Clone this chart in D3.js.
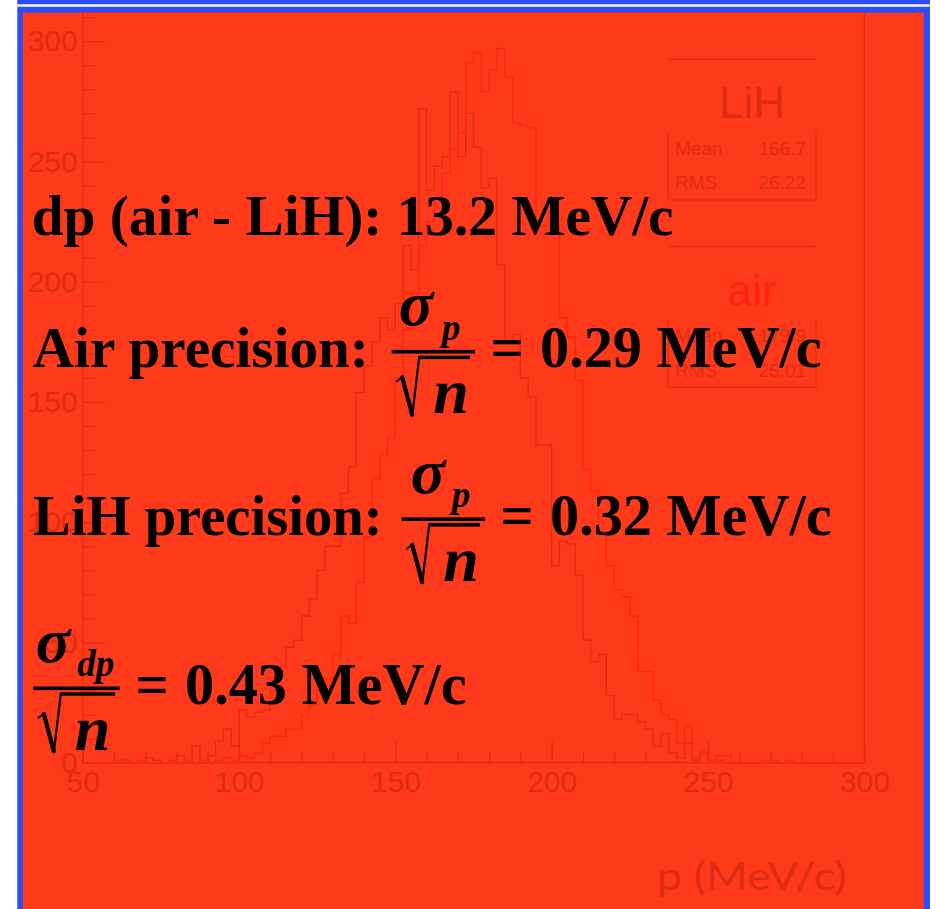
<!DOCTYPE html>
<html>
<head>
<meta charset="utf-8">
<script src="https://cdn.jsdelivr.net/npm/d3@7"></script>
<style>
  html, body { margin: 0; padding: 0; background: #ffffff; }
  svg { display: block; }
</style>
</head>
<body>
<svg id="chart" width="936" height="909"></svg>
<script>
// ---- histogram binning (p in MeV/c) ----
const binLow = 50;
const binWidth = 2.5;

// LiH absorber momentum spectrum, counts per 2.5 MeV/c bin
const lihCounts = [
  0, 0, 0, 0, 1, 1, 0, 1, 2, 1,
  0, 1, 3, 1, 7, 1, 3, 9, 14, 7,
  22, 19, 21, 22, 30, 40, 48, 51, 61, 68,
  80, 90, 90, 112, 123, 154, 165, 175, 185, 180,
  191, 215, 205, 272, 238, 248, 252, 279, 252, 270,
  256, 239, 243, 207, 175, 178, 160, 152, 132, 132,
  82, 92, 91, 78, 51, 42, 45, 28, 18, 20,
  20, 17, 14, 7, 12, 4, 2, 8, 1, 4,
  1, 1, 0, 0, 0, 0, 0, 0, 0, 0,
  0, 0, 0, 0, 0, 0, 0, 0, 0, 0
];

// air (no absorber) momentum spectrum, counts per 2.5 MeV/c bin
const airCounts = [
  0, 0, 0, 0, 0, 1, 0, 0, 0, 0,
  0, 0, 0, 1, 0, 1, 0, 1, 2, 1,
  3, 2, 4, 8, 11, 11, 14, 14, 20, 24,
  30, 35, 45, 61, 58, 75, 94, 118, 128, 135,
  160, 180, 195, 215, 225, 235, 245, 255, 262, 291,
  295, 279, 288, 297, 285, 266, 265, 264, 223, 223,
  224, 185, 177, 159, 122, 113, 96, 82, 72, 69,
  61, 38, 38, 26, 20, 18, 8, 15, 2, 5,
  1, 3, 3, 0, 0, 0, 0, 1, 1, 0,
  1, 0, 0, 0, 0, 0, 0, 0, 0, 0
];

const xMajorTicks = [50, 100, 150, 200, 250, 300];
const yMajorTicks = [0, 50, 100, 150, 200, 250, 300];
const xTitle = "p (MeV/c)";

// statistics boxes
const statNames = ["LiH", "air"];
const statMeans = ["166.7", "179.9"];
const statRms = ["26.22", "25.01"];

// result lines written over the plot
const resultLabels = ["Air precision:", "LiH precision:"];
const resultValues = ["0.29 MeV/c", "0.32 MeV/c", "0.43 MeV/c"];
const shiftText = "dp (air - LiH): 13.2 MeV/c";

// ---- colours ----
const BLUE = "#2c4cff";
const PANEL = "#ff3a1a";
const FAINT = "#e02c14";   // axes, labels, LiH line
const AIRLINE = "#ff2210"; // air line
const INK = "#000000";

const svg = d3.select("#chart");

// slide frame: blue border with a thin white rule near the top
svg.append("rect").attr("x", 17.3).attr("y", 0).attr("width", 930 - 17.3).attr("height", 909).attr("fill", BLUE);
svg.append("rect").attr("x", 17.3).attr("y", 4.3).attr("width", 930 - 17.3).attr("height", 2.4).attr("fill", "#ffffff");
svg.append("rect").attr("x", 22.7).attr("y", 12.7).attr("width", 924 - 22.7).attr("height", 909 - 12.7).attr("fill", PANEL);

// ---- plot ----
const yMax = d3.max(airCounts.concat(lihCounts)) * 1.05;
const x = d3.scaleLinear().domain([50, 300]).range([82.7, 864.3]);
const y = d3.scaleLinear().domain([0, yMax]).range([762.7, 12.7]);

const plot = svg.append("g");

// frame
plot.append("rect")
  .attr("x", x(50)).attr("y", y(yMax))
  .attr("width", x(300) - x(50)).attr("height", y(0) - y(yMax))
  .attr("fill", "none").attr("stroke", FAINT).attr("stroke-width", 1.2);

const fontSans = "'Liberation Sans', Arial, Helvetica, sans-serif";

// x axis: major + minor ticks pointing into the frame
plot.append("g").attr("transform", `translate(0,${y(0)})`)
  .call(d3.axisBottom(x).tickValues(xMajorTicks).tickSize(-22).tickPadding(8.5).tickFormat(d3.format("d")));
plot.append("g").attr("transform", `translate(0,${y(0)})`)
  .call(d3.axisBottom(x).tickValues(d3.range(50, 301, 10).filter(v => v % 50 !== 0)).tickSize(-11).tickFormat(""));

// y axis
plot.append("g").attr("transform", `translate(${x(50)},0)`)
  .call(d3.axisLeft(y).tickValues(yMajorTicks).tickSize(-23).tickPadding(5).tickFormat(d3.format("d")));
plot.append("g").attr("transform", `translate(${x(50)},0)`)
  .call(d3.axisLeft(y).tickValues(d3.range(0, yMax, 10).filter(v => v % 50 !== 0)).tickSize(-12).tickFormat(""));

plot.selectAll(".domain").remove();
plot.selectAll(".tick line").attr("stroke", FAINT).attr("stroke-width", 1.2);
plot.selectAll(".tick text")
  .attr("fill", FAINT).attr("font-family", fontSans).attr("font-size", 30);

// axis title
plot.append("text")
  .attr("x", 846.7).attr("y", 890)
  .attr("text-anchor", "end")
  .attr("font-family", "Lato, 'Open Sans', sans-serif")
  .attr("font-size", 38)
  .attr("textLength", 190)
  .attr("lengthAdjust", "spacingAndGlyphs")
  .attr("fill", FAINT)
  .text(xTitle);

// step outlines
function stepPoints(counts) {
  const pts = counts.map((v, i) => [binLow + i * binWidth, v]);
  pts.push([binLow + counts.length * binWidth, counts[counts.length - 1]]);
  return pts;
}
const stepLine = d3.line().x(d => x(d[0])).y(d => y(d[1])).curve(d3.curveStepAfter);

plot.append("path").datum(stepPoints(lihCounts))
  .attr("d", stepLine).attr("fill", "none").attr("stroke", FAINT).attr("stroke-width", 1.3);
plot.append("path").datum(stepPoints(airCounts))
  .attr("d", stepLine).attr("fill", "none").attr("stroke", AIRLINE).attr("stroke-width", 1.3);

// statistics boxes
const boxColors = [FAINT, AIRLINE];
statNames.forEach((name, k) => {
  const off = k * 187.4;
  const g = plot.append("g").attr("transform", `translate(0,${off})`);
  g.append("line").attr("x1", 668.3).attr("x2", 816).attr("y1", 59.3).attr("y2", 59.3)
    .attr("stroke", FAINT).attr("stroke-width", 1.2);
  g.append("path").attr("d", "M668.3,131.7 V200 H816 V131.7")
    .attr("fill", "none").attr("stroke", FAINT).attr("stroke-width", 1.2);
  g.append("text").attr("x", 752).attr("y", 118.3).attr("text-anchor", "middle")
    .attr("font-family", fontSans).attr("font-size", 44).attr("fill", boxColors[k]).text(name);
  [["Mean", statMeans[k], 155], ["RMS", statRms[k], 189.3]].forEach(([lab, val, yy]) => {
    g.append("text").attr("x", 675).attr("y", yy)
      .attr("font-family", fontSans).attr("font-size", 19).attr("fill", FAINT).text(lab);
    g.append("text").attr("x", 806).attr("y", yy).attr("text-anchor", "end")
      .attr("font-family", fontSans).attr("font-size", 19).attr("fill", FAINT).text(val);
  });
});

// ---- result text ----
const serif = "'Liberation Serif', 'Times New Roman', Times, serif";
const txt = svg.append("g").attr("fill", INK);

function bold(xx, yy, s, size) {
  return txt.append("text").attr("x", xx).attr("y", yy)
    .attr("font-family", serif).attr("font-weight", "bold").attr("font-size", size || 57).text(s);
}

// sigma / sqrt(n) fraction; (bx, by) is the left end of the fraction bar
function fraction(bx, by, bw, sub, sigDx, subDx) {
  txt.append("rect").attr("x", bx).attr("y", by - 1.8).attr("width", bw).attr("height", 3.6);
  txt.append("text").attr("x", bx + sigDx).attr("y", by - 26.5)
    .attr("font-family", serif).attr("font-weight", "bold").attr("font-style", "italic")
    .attr("font-size", 64).text("σ");
  txt.append("text").attr("x", bx + subDx).attr("y", by - 12)
    .attr("font-family", serif).attr("font-weight", "bold").attr("font-style", "italic")
    .attr("font-size", 37).text(sub);
  // radical sign: thin hook, heavy down-stroke, thin up-stroke, overbar
  txt.append("path")
    .attr("d", `M${bx + 4.5},${by + 30} L${bx + 10.5},${by + 25.5}`)
    .attr("fill", "none").attr("stroke", INK).attr("stroke-width", 2);
  txt.append("path")
    .attr("d", `M${bx + 10.5},${by + 25.5} L${bx + 20.5},${by + 63}`)
    .attr("fill", "none").attr("stroke", INK).attr("stroke-width", 4.2).attr("stroke-linecap", "round");
  txt.append("path")
    .attr("d", `M${bx + 20.5},${by + 64} L${bx + 27.5},${by + 5.5} L${bx + bw - 5},${by + 5.5}`)
    .attr("fill", "none").attr("stroke", INK).attr("stroke-width", 2.2);
  txt.append("rect").attr("x", bx + 27.5).attr("y", by + 4).attr("width", bw - 32.5).attr("height", 3.4);
  txt.append("text").attr("x", bx + 41.5).attr("y", by + 61.5)
    .attr("font-family", serif).attr("font-weight", "bold").attr("font-style", "italic")
    .attr("font-size", 64).text("n");
}

// equals sign followed by a value
function result(ex, vx, yy, s) {
  bold(ex, yy, "=", 58.3);
  bold(vx, yy, s, 58.3);
}

bold(31.7, 235, shiftText, 57.3);

bold(32.7, 367, resultLabels[0], 57.2);
fraction(391.7, 351.7, 83.3, "p", 7, 50);
result(490.5, 540, 366.7, resultValues[0]);

bold(33, 535, resultLabels[1], 56.6);
fraction(401.7, 519.2, 83.3, "p", 9, 50);
result(500.5, 550, 535, resultValues[1]);

fraction(33.3, 688.3, 86.7, "dp", 2.5, 44);
result(135.5, 185, 704, resultValues[2]);
</script>
</body>
</html>
